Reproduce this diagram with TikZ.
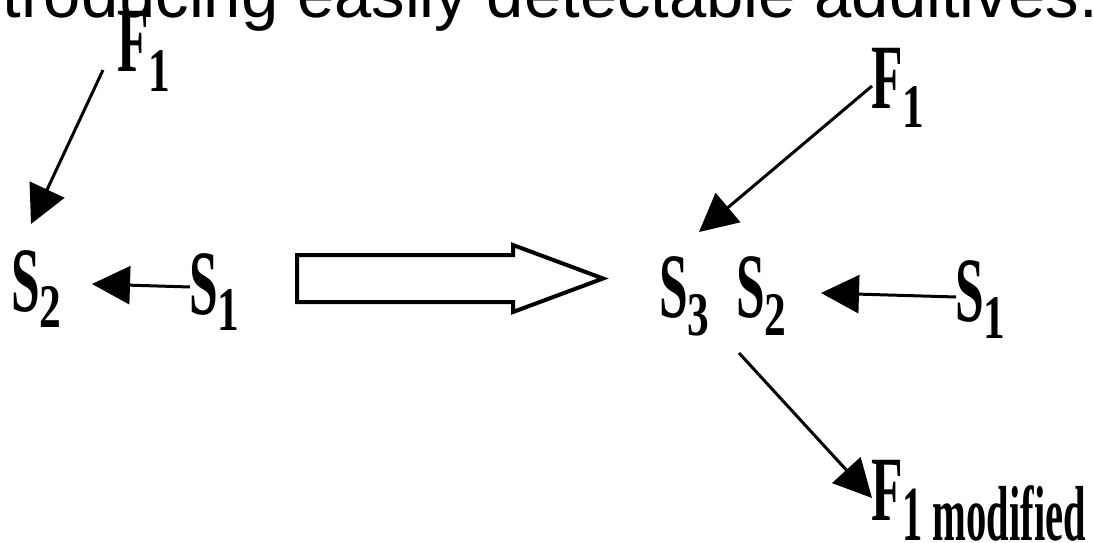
\documentclass[tikz,border=0pt]{standalone}
\usepackage{fontspec}
\setmainfont{Liberation Serif}
\newfontfamily\headfont{Liberation Sans}
\newfontfamily\condmain[FakeStretch=0.56]{Liberation Serif}
\newfontfamily\condsub[FakeStretch=0.70]{Liberation Serif}
\newfontfamily\condmod[FakeStretch=0.52]{Liberation Serif}
\usetikzlibrary{arrows.meta,calc}
\newcommand\mainletter[1]{{\condmain\bfseries\fontsize{92}{92}\selectfont #1}}
\newcommand\subdigit[2]{\raisebox{-#2pt}{\condsub\bfseries\fontsize{62}{62}\selectfont #1}}
\tikzset{
  lbl/.style={inner sep=0pt, outer sep=0pt, anchor=base west},
  arr/.style={line width=3pt, -{Triangle[length=38pt,width=38pt]}},
  block/.style={line width=4pt, fill=white, line join=miter},
}
\begin{document}
\begin{tikzpicture}[x=1pt,y=-1pt]
\useasboundingbox (0,0) rectangle (1093,543);
\clip (0,0) rectangle (1093,543);
% heading (cut off at the top)
\node[lbl] (head) at (-53,18) {\headfont\fontsize{67}{67}\selectfont Introducing easily detectable additives.};
% left side
\node[lbl] (f1l) at (117,72) {\mainletter{F}\subdigit{1}{20}};
\node[lbl] (s2l) at (11,311) {\mainletter{S}\subdigit{2}{16}};
\node[lbl] (s1l) at (189,314) {\mainletter{S}\subdigit{1}{16}};
\draw[arr] ($(f1l.base west)+(-14,-2)$) -- ($(s2l.base west)+(20,-87)$);
\draw[arr] ($(s1l.base west)+(1,-27)$) -- ($(s2l.base west)+(81,-27)$);
% block arrow
\draw[block] (297,255) -- (513,255) -- (513,245) -- (603,278.5) -- (513,312) -- (513,302) -- (297,302) -- cycle;
% right side
\node[lbl] (f1r) at (871,108) {\mainletter{F}\subdigit{1}{19}};
\node[lbl] (s3) at (659,317) {\mainletter{S}\subdigit{3}{18}};
\node[lbl] (s2r) at (736,317) {\mainletter{S}\subdigit{2}{18}};
\node[lbl] (s1r) at (955,321) {\mainletter{S}\subdigit{1}{17}};
\node[lbl] (f1m) at (871,520) {\mainletter{F}\raisebox{-20pt}{\condmod\bfseries\fontsize{78}{78}\selectfont 1 modified}};
\draw[arr] ($(f1r.base west)+(1,-22)$) -- ($(s3.base west)+(40,-85)$);
\draw[arr] ($(s1r.base west)+(1,-24)$) -- ($(s2r.base west)+(85,-24)$);
\draw[arr] ($(s2r.base west)+(3,36)$) -- ($(f1m.base west)+(1,-22)$);
\end{tikzpicture}
\end{document}
